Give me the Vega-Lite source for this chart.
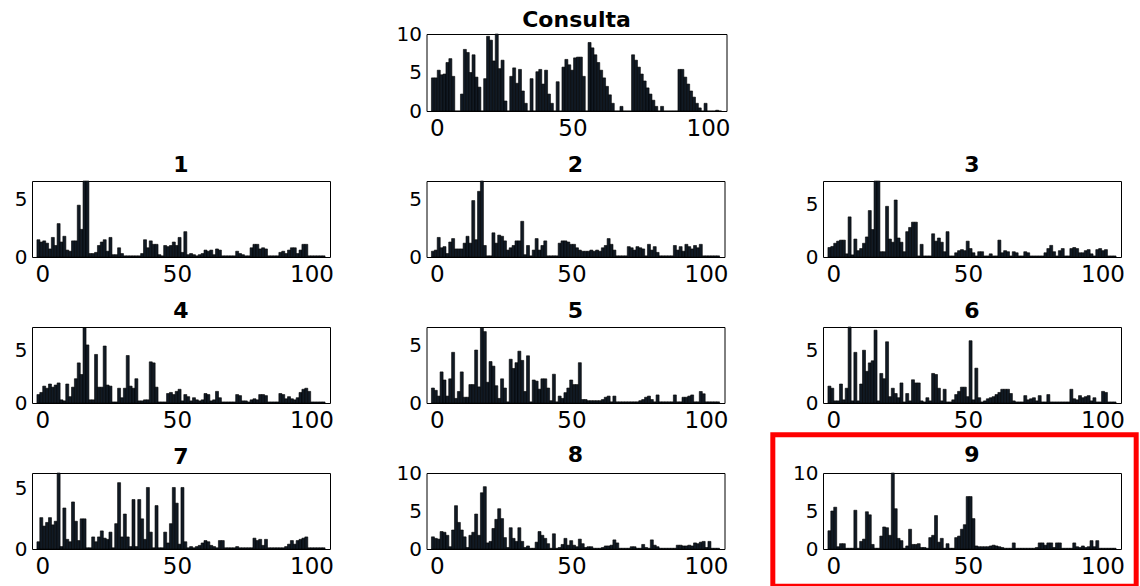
{
"$schema": "https://vega.github.io/schema/vega-lite/v6.json",
"background": "white",
"padding": {"left": 13, "top": 8, "right": 0, "bottom": 0},
"datasets": {"h": [
{"x":-1.47,"c":4.3,"a1":1.5,"a2":0.5,"a3":0.9,"a4":0.8,"a5":1.3,"a6":1.6,"a7":0.6,"a8":1.6,"a9":2.4},
{"x":-0.4,"c":4.3,"a1":1.3,"a2":0.6,"a3":1.0,"a4":1.0,"a5":1.1,"a6":1.4,"a7":2.6,"a8":1.4,"a9":5.0},
{"x":0.68,"c":5.3,"a1":1.4,"a2":1.7,"a3":1.3,"a4":1.6,"a5":0.6,"a6":0.2,"a7":1.9,"a8":1.3,"a9":5.5},
{"x":1.75,"c":4.7,"a1":1.2,"a2":0.8,"a3":1.5,"a4":1.4,"a5":2.7,"a6":0.2,"a7":2.2,"a8":2.3,"a9":0.3},
{"x":2.82,"c":4.8,"a1":0.7,"a2":0.9,"a3":1.6,"a4":1.8,"a5":2.0,"a6":1.8,"a7":2.6,"a8":2.2,"a9":0.7},
{"x":3.89,"c":6.3,"a1":1.7,"a2":0.3,"a3":1.6,"a4":1.5,"a5":0.6,"a6":0.3,"a7":2.0,"a8":1.8,"a9":0.7},
{"x":4.96,"c":6.8,"a1":1.0,"a2":1.3,"a3":0.3,"a4":1.7,"a5":2.1,"a6":1.4,"a7":2.3,"a8":0.3,"a9":0.1},
{"x":6.03,"c":4.5,"a1":2.9,"a2":1.6,"a3":3.8,"a4":1.9,"a5":4.4,"a6":7.2,"a7":6.3,"a8":2.5,"a9":0.1},
{"x":7.1,"c":0,"a1":1.3,"a2":0.7,"a3":0.2,"a4":0.3,"a5":0.4,"a6":0.2,"a7":0.2,"a8":5.7,"a9":0.1},
{"x":8.17,"c":0,"a1":1.8,"a2":0.7,"a3":1.7,"a4":0.2,"a5":1.0,"a6":4.8,"a7":3.4,"a8":3.5,"a9":5.1},
{"x":9.24,"c":2.2,"a1":0.6,"a2":0.7,"a3":0.6,"a4":1.8,"a5":2.7,"a6":0.2,"a7":0.8,"a8":2.5,"a9":0.1},
{"x":10.31,"c":8.0,"a1":0.5,"a2":1.2,"a3":0.8,"a4":0.6,"a5":0.5,"a6":1.8,"a7":0.6,"a8":1.6,"a9":1.0},
{"x":11.38,"c":7.6,"a1":1.4,"a2":1.8,"a3":1.3,"a4":1.5,"a5":0.5,"a6":5.0,"a7":3.9,"a8":0.2,"a9":1.3},
{"x":12.45,"c":5.0,"a1":1.4,"a2":1.2,"a3":1.9,"a4":2.3,"a5":1.6,"a6":3.0,"a7":2.3,"a8":1.8,"a9":4.9},
{"x":13.52,"c":7.3,"a1":4.5,"a2":4.9,"a3":4.4,"a4":3.8,"a5":1.6,"a6":3.8,"a7":0.7,"a8":2.2,"a9":4.5},
{"x":14.59,"c":4.4,"a1":2.4,"a2":1.5,"a3":2.6,"a4":2.7,"a5":4.6,"a6":4.0,"a7":2.5,"a8":4.6,"a9":0.6},
{"x":15.66,"c":3.1,"a1":6.6,"a2":5.7,"a3":7.2,"a4":7.1,"a5":1.4,"a6":6.9,"a7":2.5,"a8":1.8,"a9":0.1},
{"x":16.73,"c":0,"a1":6.6,"a2":6.6,"a3":7.2,"a4":5.5,"a5":6.5,"a6":0.2,"a7":0.1,"a8":7.4,"a9":0.1},
{"x":17.8,"c":4.2,"a1":0.3,"a2":1.0,"a3":0.5,"a4":0.3,"a5":6.2,"a6":2.8,"a7":0.1,"a8":8.2,"a9":1.7},
{"x":18.87,"c":9.7,"a1":0.3,"a2":0.1,"a3":0.5,"a4":0.3,"a5":1.8,"a6":2.3,"a7":1.0,"a8":0.8,"a9":2.9},
{"x":19.94,"c":9.2,"a1":0.4,"a2":0.1,"a3":4.8,"a4":4.6,"a5":3.6,"a6":5.8,"a7":0.6,"a8":1.0,"a9":2.8},
{"x":21.01,"c":6.5,"a1":1.0,"a2":2.1,"a3":1.7,"a4":1.5,"a5":3.2,"a6":0.6,"a7":1.0,"a8":2.7,"a9":1.8},
{"x":22.08,"c":10.0,"a1":1.3,"a2":1.2,"a3":1.4,"a4":1.5,"a5":1.5,"a6":1.4,"a7":1.5,"a8":3.9,"a9":10.0},
{"x":23.15,"c":5.5,"a1":1.5,"a2":1.9,"a3":5.4,"a4":5.4,"a5":0.4,"a6":0.9,"a7":0.9,"a8":5.3,"a9":5.3},
{"x":24.22,"c":6.6,"a1":0.5,"a2":1.8,"a3":1.8,"a4":1.7,"a5":2.1,"a6":0.5,"a7":0.8,"a8":4.0,"a9":1.4},
{"x":25.29,"c":1.3,"a1":1.7,"a2":1.4,"a3":1.4,"a4":1.6,"a5":1.3,"a6":1.9,"a7":1.4,"a8":1.5,"a9":1.1},
{"x":26.36,"c":0,"a1":0.2,"a2":0.6,"a3":0.5,"a4":0.1,"a5":0.1,"a6":0.1,"a7":0.1,"a8":0.2,"a9":0.1},
{"x":27.43,"c":4.5,"a1":0.2,"a2":0.8,"a3":2.4,"a4":0.1,"a5":3.8,"a6":0.9,"a7":2.1,"a8":2.8,"a9":0.4},
{"x":28.5,"c":5.6,"a1":0.8,"a2":1.0,"a3":2.8,"a4":1.4,"a5":3.0,"a6":0.2,"a7":5.5,"a8":1.4,"a9":2.6},
{"x":29.57,"c":3.6,"a1":0.3,"a2":1.4,"a3":3.3,"a4":0.5,"a5":3.5,"a6":2.2,"a7":1.0,"a8":1.0,"a9":0.6},
{"x":30.64,"c":5.4,"a1":0.1,"a2":1.4,"a3":3.3,"a4":1.4,"a5":4.5,"a6":1.9,"a7":2.9,"a8":2.8,"a9":0.6},
{"x":31.71,"c":2.6,"a1":0.1,"a2":3.1,"a3":0.1,"a4":4.5,"a5":3.7,"a6":1.9,"a7":1.0,"a8":1.0,"a9":0.7},
{"x":32.78,"c":1.0,"a1":0.1,"a2":0.2,"a3":1.2,"a4":1.6,"a5":1.0,"a6":0.2,"a7":0.2,"a8":0.2,"a9":0.2},
{"x":33.85,"c":0,"a1":0.1,"a2":1.0,"a3":0.1,"a4":1.4,"a5":4.1,"a6":0.1,"a7":4.1,"a8":0.4,"a9":0.2},
{"x":34.92,"c":4.2,"a1":0.1,"a2":0.1,"a3":0.1,"a4":2.3,"a5":0.1,"a6":0.5,"a7":0.2,"a8":0.1,"a9":0.1},
{"x":35.99,"c":0,"a1":0.1,"a2":0.6,"a3":0.1,"a4":0.2,"a5":2.0,"a6":0.2,"a7":4.1,"a8":0.1,"a9":1.5},
{"x":37.06,"c":5.1,"a1":0.3,"a2":1.6,"a3":2.2,"a4":0.2,"a5":1.9,"a6":2.8,"a7":2.5,"a8":0.9,"a9":1.8},
{"x":38.13,"c":5.4,"a1":1.5,"a2":0.6,"a3":1.5,"a4":0.3,"a5":1.2,"a6":2.7,"a7":0.8,"a8":2.3,"a9":4.4},
{"x":39.2,"c":3.5,"a1":0.8,"a2":1.0,"a3":1.8,"a4":0.3,"a5":2.1,"a6":1.4,"a7":5.1,"a8":1.8,"a9":0.9},
{"x":40.27,"c":5.3,"a1":1.4,"a2":1.4,"a3":1.4,"a4":3.9,"a5":2.1,"a6":0.2,"a7":1.4,"a8":1.4,"a9":1.4},
{"x":41.34,"c":2.2,"a1":1.1,"a2":0.1,"a3":0.5,"a4":3.8,"a5":1.3,"a6":1.3,"a7":0.1,"a8":0.7,"a9":0.1},
{"x":42.41,"c":1.0,"a1":1.1,"a2":0.1,"a3":2.4,"a4":1.5,"a5":0.2,"a6":0.1,"a7":3.6,"a8":0.1,"a9":0.7},
{"x":43.48,"c":0,"a1":0.2,"a2":0.1,"a3":0.1,"a4":0.1,"a5":2.5,"a6":0.1,"a7":0.1,"a8":2.0,"a9":0.1},
{"x":44.55,"c":3.8,"a1":0.1,"a2":0.1,"a3":0.1,"a4":0.1,"a5":0.1,"a6":0.3,"a7":0.1,"a8":0.1,"a9":0.1},
{"x":45.62,"c":0,"a1":1.0,"a2":1.2,"a3":0.4,"a4":0.1,"a5":0.6,"a6":0.8,"a7":1.4,"a8":0.2,"a9":1.5},
{"x":46.69,"c":5.7,"a1":0.9,"a2":1.4,"a3":0.6,"a4":0.9,"a5":0.4,"a6":1.1,"a7":0.5,"a8":0.6,"a9":1.7},
{"x":47.76,"c":6.7,"a1":1.0,"a2":1.4,"a3":0.7,"a4":1.0,"a5":0.9,"a6":1.5,"a7":2.1,"a8":1.4,"a9":2.6},
{"x":48.83,"c":6.0,"a1":1.3,"a2":1.3,"a3":0.6,"a4":0.8,"a5":1.3,"a6":1.5,"a7":5.1,"a8":0.5,"a9":3.2},
{"x":49.9,"c":5.3,"a1":1.0,"a2":1.1,"a3":1.5,"a4":1.1,"a5":2.0,"a6":0.6,"a7":3.8,"a8":1.1,"a9":6.9},
{"x":50.97,"c":6.9,"a1":1.7,"a2":1.1,"a3":0.8,"a4":1.3,"a5":1.6,"a6":5.9,"a7":0.4,"a8":0.5,"a9":6.9},
{"x":52.04,"c":7.0,"a1":0.4,"a2":0.8,"a3":0.4,"a4":0.2,"a5":1.6,"a6":0.3,"a7":5.1,"a8":0.3,"a9":4.0},
{"x":53.11,"c":7.0,"a1":2.2,"a2":0.6,"a3":0.1,"a4":0.8,"a5":3.5,"a6":3.3,"a7":0.6,"a8":1.3,"a9":0.4},
{"x":54.18,"c":4.5,"a1":0.2,"a2":0.5,"a3":0.5,"a4":0.6,"a5":0.3,"a6":0.5,"a7":0.1,"a8":0.7,"a9":0.3},
{"x":55.25,"c":0,"a1":0.3,"a2":0.5,"a3":0.5,"a4":0.2,"a5":0.3,"a6":0.1,"a7":0.2,"a8":0.2,"a9":0.3},
{"x":56.32,"c":8.9,"a1":0.2,"a2":0.5,"a3":0.1,"a4":0.5,"a5":0.2,"a6":0.2,"a7":0.1,"a8":0.3,"a9":0.3},
{"x":57.39,"c":8.2,"a1":0.1,"a2":0.6,"a3":0.1,"a4":0.3,"a5":0.2,"a6":0.4,"a7":0.2,"a8":0.3,"a9":0.3},
{"x":58.46,"c":7.3,"a1":0.2,"a2":0.5,"a3":0.3,"a4":0.2,"a5":0.2,"a6":0.5,"a7":0.3,"a8":0.1,"a9":0.4},
{"x":59.53,"c":6.3,"a1":0.3,"a2":0.6,"a3":0.1,"a4":0.3,"a5":0.2,"a6":0.6,"a7":0.5,"a8":0.1,"a9":0.5},
{"x":60.6,"c":5.3,"a1":0.6,"a2":0.5,"a3":0.1,"a4":0.9,"a5":0.2,"a6":0.8,"a7":0.7,"a8":0.1,"a9":0.4},
{"x":61.67,"c":4.3,"a1":0.5,"a2":0.8,"a3":1.6,"a4":0.8,"a5":0.3,"a6":1.0,"a7":0.6,"a8":0.2,"a9":0.3},
{"x":62.74,"c":3.2,"a1":0.6,"a2":1.0,"a3":0.4,"a4":0.2,"a5":0.5,"a6":1.3,"a7":0.3,"a8":0.4,"a9":0.2},
{"x":63.81,"c":2.1,"a1":0.2,"a2":1.6,"a3":0.6,"a4":0.3,"a5":0.6,"a6":1.3,"a7":0.2,"a8":0.4,"a9":0.1},
{"x":64.88,"c":1.0,"a1":0.7,"a2":1.1,"a3":0.5,"a4":1.1,"a5":0.1,"a6":1.3,"a7":0.1,"a8":0.5,"a9":0.1},
{"x":65.95,"c":0,"a1":0.6,"a2":0.6,"a3":0.1,"a4":0.5,"a5":0.6,"a6":0.9,"a7":0.7,"a8":1.2,"a9":0.1},
{"x":67.02,"c":0,"a1":0.1,"a2":0.1,"a3":0.5,"a4":0.1,"a5":0.1,"a6":0.2,"a7":0.7,"a8":0.8,"a9":0.8},
{"x":68.09,"c":0.6,"a1":0.1,"a2":0.1,"a3":0.4,"a4":0.1,"a5":0.1,"a6":0.1,"a7":0.1,"a8":0.1,"a9":0.1},
{"x":69.16,"c":0,"a1":0.1,"a2":0.1,"a3":0.1,"a4":0.1,"a5":0.1,"a6":0.1,"a7":0.1,"a8":0.1,"a9":0.1},
{"x":70.23,"c":0,"a1":0.1,"a2":0.1,"a3":0.1,"a4":0.1,"a5":0.1,"a6":0.1,"a7":0.1,"a8":0.1,"a9":0.1},
{"x":71.3,"c":0,"a1":0.1,"a2":0.9,"a3":0.5,"a4":0.1,"a5":0.1,"a6":0.7,"a7":0.1,"a8":0.1,"a9":0.1},
{"x":72.37,"c":7.3,"a1":0.5,"a2":0.8,"a3":0.4,"a4":0.8,"a5":0.1,"a6":0.3,"a7":0.2,"a8":0.3,"a9":0.1},
{"x":73.44,"c":6.6,"a1":0.3,"a2":0.6,"a3":0.1,"a4":0.7,"a5":0.1,"a6":0.4,"a7":0.1,"a8":0.3,"a9":0.1},
{"x":74.51,"c":5.7,"a1":0.2,"a2":0.9,"a3":0.1,"a4":0.2,"a5":0.1,"a6":0.5,"a7":0.1,"a8":0.1,"a9":0.1},
{"x":75.58,"c":4.8,"a1":0.1,"a2":0.8,"a3":0.1,"a4":0.2,"a5":0.2,"a6":0.2,"a7":0.1,"a8":0.1,"a9":0.2},
{"x":76.65,"c":3.9,"a1":0.1,"a2":0.7,"a3":0.1,"a4":0.1,"a5":0.3,"a6":0.7,"a7":0.1,"a8":0.6,"a9":0.8},
{"x":77.72,"c":3.0,"a1":0.8,"a2":0.1,"a3":0.1,"a4":0.3,"a5":0.5,"a6":0.1,"a7":0.1,"a8":0.2,"a9":0.8},
{"x":78.79,"c":2.2,"a1":1.1,"a2":1.1,"a3":0.4,"a4":0.4,"a5":0.6,"a6":0.1,"a7":0.9,"a8":0.1,"a9":0.5},
{"x":79.86,"c":1.4,"a1":1.1,"a2":0.6,"a3":0.8,"a4":0.3,"a5":0.3,"a6":0.8,"a7":0.7,"a8":1.2,"a9":0.8},
{"x":80.93,"c":0.6,"a1":0.7,"a2":0.9,"a3":1.1,"a4":0.8,"a5":0.1,"a6":0.1,"a7":0.8,"a8":0.5,"a9":0.8},
{"x":82.0,"c":0,"a1":0.8,"a2":0.4,"a3":0.5,"a4":0.8,"a5":0.7,"a6":0.1,"a7":0.3,"a8":0.3,"a9":0.2},
{"x":83.07,"c":0.6,"a1":0.7,"a2":0.1,"a3":0.1,"a4":0.7,"a5":0.1,"a6":0.1,"a7":0.8,"a8":0.1,"a9":0.8},
{"x":84.14,"c":0,"a1":0.1,"a2":0.1,"a3":0.6,"a4":0.1,"a5":0.1,"a6":0.1,"a7":0.1,"a8":0.1,"a9":0.8},
{"x":85.21,"c":0,"a1":0.1,"a2":0.1,"a3":0.8,"a4":0.1,"a5":0.1,"a6":0.1,"a7":0.1,"a8":0.1,"a9":0.1},
{"x":86.28,"c":0,"a1":0.1,"a2":0.1,"a3":0.1,"a4":0.1,"a5":0.1,"a6":0.1,"a7":0.1,"a8":0.1,"a9":0.1},
{"x":87.35,"c":0,"a1":0.1,"a2":0.1,"a3":0.1,"a4":0.1,"a5":0.1,"a6":0.1,"a7":0.1,"a8":0.1,"a9":0.1},
{"x":88.42,"c":0,"a1":0.4,"a2":1.0,"a3":0.8,"a4":0.9,"a5":0.7,"a6":1.3,"a7":0.1,"a8":0.1,"a9":0.1},
{"x":89.49,"c":5.4,"a1":0.5,"a2":0.6,"a3":0.9,"a4":0.8,"a5":0.1,"a6":0.4,"a7":0.1,"a8":0.5,"a9":0.8},
{"x":90.56,"c":5.4,"a1":0.3,"a2":0.9,"a3":0.8,"a4":0.4,"a5":0.1,"a6":0.3,"a7":0.2,"a8":0.5,"a9":0.3},
{"x":91.63,"c":4.4,"a1":0.6,"a2":0.5,"a3":0.4,"a4":0.6,"a5":0.5,"a6":0.7,"a7":0.4,"a8":0.4,"a9":0.2},
{"x":92.7,"c":3.5,"a1":0.8,"a2":1.1,"a3":0.4,"a4":0.4,"a5":0.5,"a6":0.5,"a7":0.7,"a8":0.4,"a9":0.4},
{"x":93.77,"c":2.6,"a1":0.8,"a2":0.9,"a3":0.6,"a4":0.3,"a5":0.6,"a6":0.6,"a7":0.4,"a8":0.5,"a9":0.2},
{"x":94.84,"c":1.8,"a1":0.3,"a2":0.7,"a3":0.7,"a4":0.5,"a5":0.7,"a6":0.7,"a7":0.7,"a8":0.4,"a9":0.3},
{"x":95.91,"c":1.0,"a1":0.6,"a2":1.0,"a3":0.3,"a4":1.0,"a5":0.1,"a6":0.2,"a7":0.8,"a8":0.8,"a9":1.1},
{"x":96.98,"c":0.4,"a1":1.1,"a2":0.8,"a3":0.1,"a4":1.3,"a5":0.1,"a6":0.5,"a7":0.9,"a8":0.7,"a9":0.3},
{"x":98.05,"c":0,"a1":1.1,"a2":1.1,"a3":0.7,"a4":1.4,"a5":1.0,"a6":0.1,"a7":1.0,"a8":0.9,"a9":1.1},
{"x":99.12,"c":1.0,"a1":0.1,"a2":0.1,"a3":0.8,"a4":1.1,"a5":0.8,"a6":0.1,"a7":0.1,"a8":1.0,"a9":0.1},
{"x":100.19,"c":0,"a1":0.1,"a2":0.1,"a3":0.6,"a4":0.1,"a5":0.1,"a6":1.1,"a7":0.1,"a8":0.2,"a9":0.1},
{"x":101.26,"c":0,"a1":0.1,"a2":0.1,"a3":0.7,"a4":0.1,"a5":0.1,"a6":1.0,"a7":0.1,"a8":1.0,"a9":0.1},
{"x":102.33,"c":0,"a1":0.1,"a2":0.1,"a3":0.1,"a4":0.1,"a5":0.1,"a6":0.1,"a7":0.1,"a8":0.1,"a9":0.1},
{"x":103.4,"c":0.1,"a1":0.1,"a2":0.1,"a3":0.1,"a4":0.1,"a5":0.1,"a6":0.1,"a7":0.1,"a8":0.1,"a9":0.1},
{"x":104.47,"c":0,"a1":0.1,"a2":0.1,"a3":0.1,"a4":0.1,"a5":0.1,"a6":0.1,"a7":0.1,"a8":0.1,"a9":0.1}
]},
"columns": 3,
"bounds": "flush",
"spacing": {"row": 70, "column": 96.5},
"concat": [
{"width": 298, "height": 77, "data": {"values": []}, "mark": "point", "encoding": {}, "view": {"stroke": null}},
{"title": {"text": "Consulta", "offset": -8}, "width": 300, "height": 77, "data": {"name": "h"},
 "mark": {"type": "bar", "width": 3, "fill": "#111a24", "stroke": "#000000", "strokeWidth": 0.6},
 "encoding": {"x": {"field": "x", "type": "quantitative", "scale": {"domain": [-2, 105], "nice": false, "zero": false}, "axis": {"values": [0, 50, 100], "title": null}},
  "y": {"field": "c", "type": "quantitative", "scale": {"domain": [0, 10], "nice": false}, "axis": {"values": [0, 5, 10], "title": null}}}},
{"width": 298, "height": 77, "data": {"values": []}, "mark": "point", "encoding": {}, "view": {"stroke": null}},
{"title": "1", "width": 298, "height": 76, "data": {"name": "h"},
 "mark": {"type": "bar", "width": 3, "fill": "#111a24", "stroke": "#000000", "strokeWidth": 0.6},
 "encoding": {"x": {"field": "x", "type": "quantitative", "scale": {"domain": [-2, 105], "nice": false, "zero": false}, "axis": {"values": [0, 50, 100], "title": null}},
  "y": {"field": "a1", "type": "quantitative", "scale": {"domain": [0, 6.6], "nice": false}, "axis": {"values": [0, 5], "title": null}}}},
{"title": "2", "width": 298, "height": 76, "data": {"name": "h"},
 "mark": {"type": "bar", "width": 3, "fill": "#111a24", "stroke": "#000000", "strokeWidth": 0.6},
 "encoding": {"x": {"field": "x", "type": "quantitative", "scale": {"domain": [-2, 105], "nice": false, "zero": false}, "axis": {"values": [0, 50, 100], "title": null}},
  "y": {"field": "a2", "type": "quantitative", "scale": {"domain": [0, 6.6], "nice": false}, "axis": {"values": [0, 5], "title": null}}}},
{"title": "3", "width": 298, "height": 76, "data": {"name": "h"},
 "mark": {"type": "bar", "width": 3, "fill": "#111a24", "stroke": "#000000", "strokeWidth": 0.6},
 "encoding": {"x": {"field": "x", "type": "quantitative", "scale": {"domain": [-2, 105], "nice": false, "zero": false}, "axis": {"values": [0, 50, 100], "title": null}},
  "y": {"field": "a3", "type": "quantitative", "scale": {"domain": [0, 7.2], "nice": false}, "axis": {"values": [0, 5], "title": null}}}},
{"title": "4", "width": 298, "height": 76, "data": {"name": "h"},
 "mark": {"type": "bar", "width": 3, "fill": "#111a24", "stroke": "#000000", "strokeWidth": 0.6},
 "encoding": {"x": {"field": "x", "type": "quantitative", "scale": {"domain": [-2, 105], "nice": false, "zero": false}, "axis": {"values": [0, 50, 100], "title": null}},
  "y": {"field": "a4", "type": "quantitative", "scale": {"domain": [0, 7.2], "nice": false}, "axis": {"values": [0, 5], "title": null}}}},
{"title": "5", "width": 298, "height": 76, "data": {"name": "h"},
 "mark": {"type": "bar", "width": 3, "fill": "#111a24", "stroke": "#000000", "strokeWidth": 0.6},
 "encoding": {"x": {"field": "x", "type": "quantitative", "scale": {"domain": [-2, 105], "nice": false, "zero": false}, "axis": {"values": [0, 50, 100], "title": null}},
  "y": {"field": "a5", "type": "quantitative", "scale": {"domain": [0, 6.6], "nice": false}, "axis": {"values": [0, 5], "title": null}}}},
{"title": "6", "width": 298, "height": 76,
 "layer": [
  {"data": {"name": "h"},
   "mark": {"type": "bar", "width": 3, "fill": "#111a24", "stroke": "#000000", "strokeWidth": 0.6},
   "encoding": {"x": {"field": "x", "type": "quantitative", "scale": {"domain": [-2, 105], "nice": false, "zero": false}, "axis": {"values": [0, 50, 100], "title": null}},
    "y": {"field": "a6", "type": "quantitative", "scale": {"domain": [0, 7.2], "nice": false}, "axis": {"values": [0, 5], "title": null}}}},
  {"data": {"values": [{"box": "highlight of panel 9"}]},
   "mark": {"type": "rect", "fill": "transparent", "stroke": "#ff0000", "strokeWidth": 5, "clip": false},
   "encoding": {"x": {"datum": -22.5}, "x2": {"datum": 112.5}, "y": {"datum": -3.0}, "y2": {"datum": -17.35}}}
 ]},
{"title": "7", "width": 298, "height": 76, "data": {"name": "h"},
 "mark": {"type": "bar", "width": 3, "fill": "#111a24", "stroke": "#000000", "strokeWidth": 0.6},
 "encoding": {"x": {"field": "x", "type": "quantitative", "scale": {"domain": [-2, 105], "nice": false, "zero": false}, "axis": {"values": [0, 50, 100], "title": null}},
  "y": {"field": "a7", "type": "quantitative", "scale": {"domain": [0, 6.3], "nice": false}, "axis": {"values": [0, 5], "title": null}}}},
{"title": {"text": "8", "offset": -4}, "width": 298, "height": 76, "data": {"name": "h"},
 "mark": {"type": "bar", "width": 3, "fill": "#111a24", "stroke": "#000000", "strokeWidth": 0.6},
 "encoding": {"x": {"field": "x", "type": "quantitative", "scale": {"domain": [-2, 105], "nice": false, "zero": false}, "axis": {"values": [0, 50, 100], "title": null}},
  "y": {"field": "a8", "type": "quantitative", "scale": {"domain": [0, 10], "nice": false}, "axis": {"values": [0, 5, 10], "title": null}}}},
{"title": {"text": "9", "offset": -4}, "width": 298, "height": 76, "data": {"name": "h"},
 "mark": {"type": "bar", "width": 3, "fill": "#111a24", "stroke": "#000000", "strokeWidth": 0.6},
 "encoding": {"x": {"field": "x", "type": "quantitative", "scale": {"domain": [-2, 105], "nice": false, "zero": false}, "axis": {"values": [0, 50, 100], "title": null}},
  "y": {"field": "a9", "type": "quantitative", "scale": {"domain": [0, 10], "nice": false}, "axis": {"values": [0, 5, 10], "title": null}}}}
],
"config": {
 "view": {"stroke": "#000000", "strokeWidth": 1},
 "axis": {"domain": false, "ticks": false, "grid": false, "labelFont": "DejaVu Sans", "labelColor": "#000000", "labelPadding": 5},
 "axisX": {"labelFontSize": 23, "labelFlush": false, "labelPadding": 6},
 "axisY": {"labelFontSize": 20},
 "title": {"font": "DejaVu Sans", "fontSize": 22, "fontWeight": "bold", "color": "#000000", "offset": 4}
}
}
